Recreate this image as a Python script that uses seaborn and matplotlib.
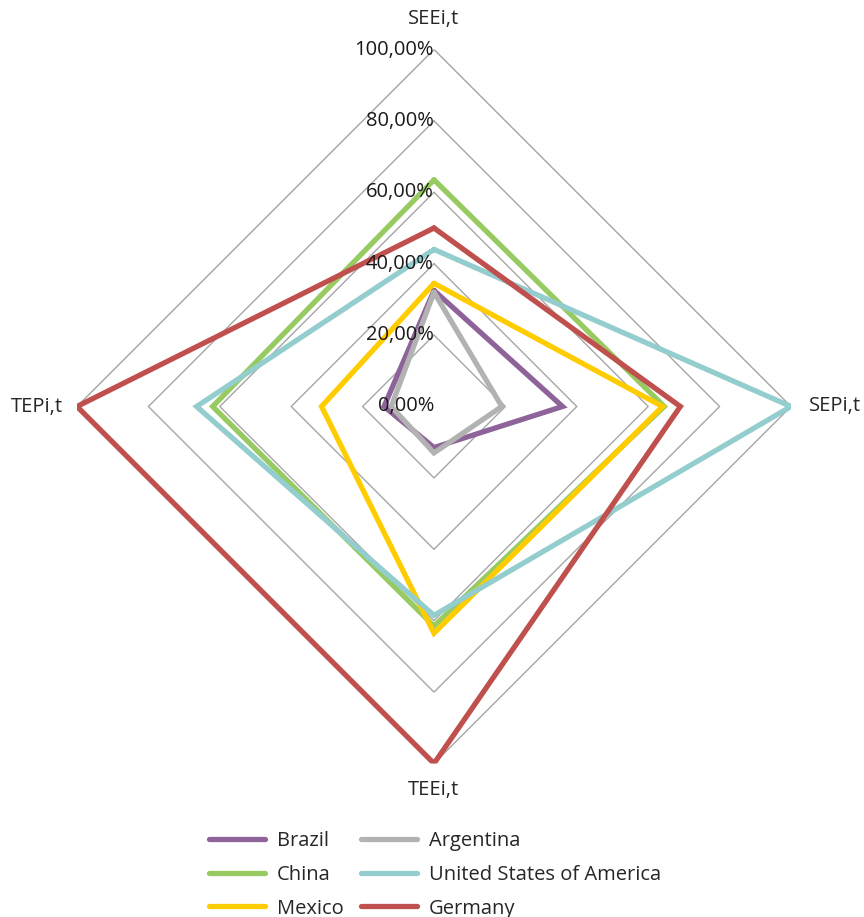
import numpy as np
import pandas as pd
import matplotlib
matplotlib.use("Agg")
import matplotlib.pyplot as plt
import seaborn as sns
from matplotlib.lines import Line2D

sns.set_theme(style="white")
plt.rcParams["font.family"] = ["Open Sans", "DejaVu Sans"]

# Indicators, clockwise from the top
axes_labels = ["SEEi,t", "SEPi,t", "TEEi,t", "TEPi,t"]

# Shares per country, in the order of axes_labels
brazil = [0.325, 0.36, 0.115, 0.14]
argentina = [0.32, 0.19, 0.13, 0.12]
china = [0.635, 0.645, 0.615, 0.62]
mexico = [0.345, 0.64, 0.635, 0.315]
usa = [0.44, 1.00, 0.585, 0.665]
germany = [0.50, 0.69, 1.00, 1.00]

countries = ["Brazil", "Argentina", "China", "Mexico",
             "United States of America", "Germany"]
series = [brazil, argentina, china, mexico, usa, germany]
colors = {
    "Brazil": "#8E6399",
    "Argentina": "#B2B2B2",
    "China": "#97CB62",
    "Mexico": "#FFCC00",
    "United States of America": "#94CDCD",
    "Germany": "#C0504D",
}
legend_order = ["Brazil", "China", "Mexico",
                "Argentina", "United States of America", "Germany"]

grid_levels = [0.0, 0.2, 0.4, 0.6, 0.8, 1.0]
grid_labels = ["0,00%", "20,00%", "40,00%", "60,00%", "80,00%", "100,00%"]

n = len(axes_labels)
angles = [i * 2 * np.pi / n for i in range(n)]

rows = []
for name, vals in zip(countries, series):
    for k in range(n + 1):
        i = k % n
        rows.append({"country": name, "order": k,
                     "theta": angles[i] if k < n else 2 * np.pi,
                     "value": vals[i]})
df = pd.DataFrame(rows)

W, H = 864, 917
fig = plt.figure(figsize=(W / 100, H / 100), dpi=100)
cx, cy, R = 434, 406.5, 357
ax = fig.add_axes([(cx - R) / W, (H - cy - R) / H, 2 * R / W, 2 * R / H],
                  projection="polar")
ax.set_theta_zero_location("N")
ax.set_theta_direction(-1)
ax.set_ylim(0, 1)
ax.grid(False)
ax.spines["polar"].set_visible(False)
ax.set_xticks([])
ax.set_yticks([])
ax.patch.set_alpha(0)

# Diamond grid rings
ring_theta = angles + [2 * np.pi]
for lvl in grid_levels[1:]:
    ax.plot(ring_theta, [lvl] * (n + 1), color="#A6A6A6", lw=1.0, zorder=1)

for lvl, lab in zip(grid_levels, grid_labels):
    ax.text(0, lvl, lab, ha="right", va="center", fontsize=14.5,
            color="#1a1a1a", zorder=6)

# Country polygons
for name in countries:
    sub = df[df["country"] == name].sort_values("order")
    sns.lineplot(data=sub, x="theta", y="value", sort=False, ax=ax,
                 color=colors[name], lw=3.8, legend=False, zorder=3,
                 solid_joinstyle="miter")

# Axis titles
ax.text(angles[0], 1.085, axes_labels[0], ha="center", va="center", fontsize=14.5)
ax.text(angles[1], 1.05, axes_labels[1], ha="left", va="center", fontsize=14.5)
ax.text(angles[2], 1.075, axes_labels[2], ha="center", va="center", fontsize=14.5)
ax.text(angles[3], 1.04, axes_labels[3], ha="right", va="center", fontsize=14.5)

ax.set_xlabel("")
ax.set_ylabel("")

handles = [Line2D([0], [0], color=colors[c], lw=3.8, solid_capstyle="round")
           for c in legend_order]
fig.legend(handles, legend_order, ncol=2, frameon=False, fontsize=14.5,
           loc="upper left", bbox_to_anchor=(191 / W, 1 - 813 / H),
           handlelength=2.75, handletextpad=0.6, columnspacing=0.9,
           labelspacing=0.68)

fig.savefig("out.png", dpi=100)
